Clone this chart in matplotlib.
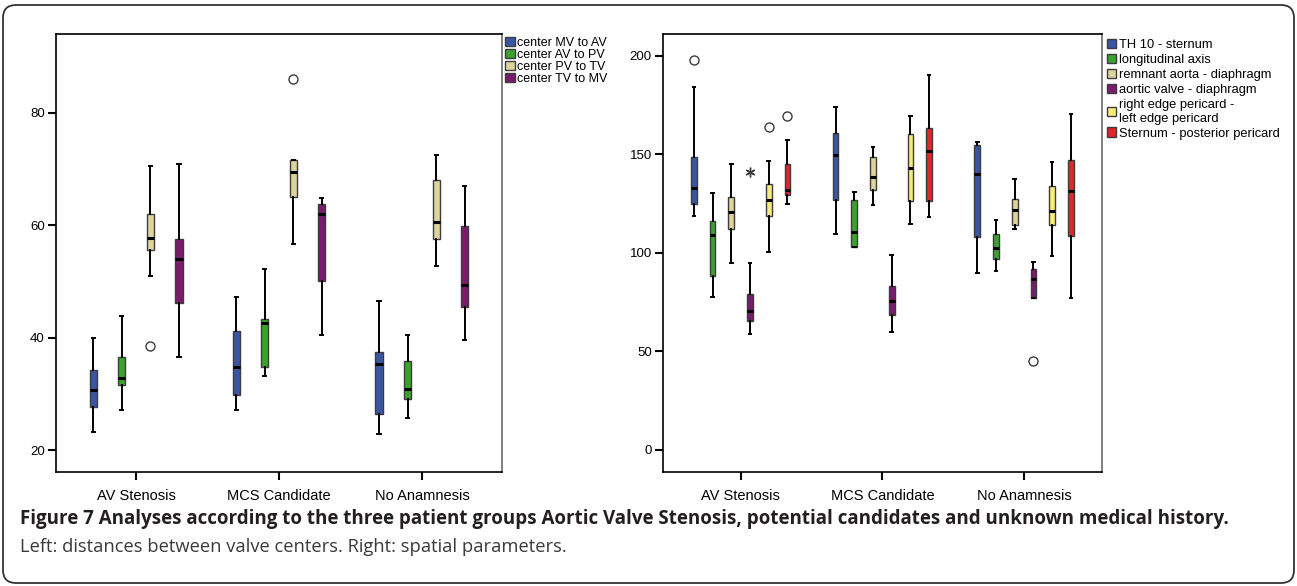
import matplotlib

matplotlib.use("Agg")

import matplotlib.pyplot as plt
from matplotlib.patches import FancyBboxPatch, Patch

plt.rcParams["font.family"] = ["Liberation Sans", "DejaVu Sans"]

GROUPS = ["AV Stenosis", "MCS Candidate", "No Anamnesis"]

# --- left panel: distances between valve centers (series x group) ---
LEFT_NAMES = ["center MV to AV", "center AV to PV", "center PV to TV", "center TV to MV"]
LEFT_COLORS = ["#3a55a4", "#3aa32c", "#ddd49c", "#7a1b6e"]
LEFT_WHISLO = [[23.2, 27.2, 22.9], [27.1, 33.1, 25.7], [51.0, 56.7, 52.8], [36.5, 40.5, 39.6]]
LEFT_Q1 = [[27.6, 29.8, 26.4], [31.5, 34.7, 29.1], [55.5, 65.0, 57.5], [46.2, 50.0, 45.4]]
LEFT_MED = [[30.7, 34.8, 35.3], [32.9, 42.6, 30.8], [57.7, 69.4, 60.5], [53.9, 61.9, 49.4]]
LEFT_Q3 = [[34.2, 41.2, 37.4], [36.6, 43.4, 35.8], [62.0, 71.6, 68.1], [57.6, 63.7, 59.9]]
LEFT_WHISHI = [[40.0, 47.2, 46.5], [43.9, 52.2, 40.5], [70.6, 71.6, 72.5], [70.8, 64.9, 67.0]]
LEFT_FLIERS = [[[], [], []], [[], [], []], [[38.5], [86.0], []], [[], [], []]]

# --- right panel: spatial parameters (series x group) ---
RIGHT_NAMES = ["TH 10 - sternum", "longitudinal axis", "remnant aorta - diaphragm",
               "aortic valve - diaphragm", "right edge pericard -\nleft edge pericard",
               "Sternum - posterior pericard"]
RIGHT_COLORS = ["#3a55a4", "#3aa32c", "#ddd49c", "#7a1b6e", "#f7ec7a", "#e4242c"]
RIGHT_WHISLO = [[118.8, 109.8, 89.9], [77.7, 103.0, 90.9], [94.8, 124.5, 112.0],
                [58.6, 59.8, 77.2], [100.2, 114.4, 98.2], [124.7, 118.1, 76.9]]
RIGHT_Q1 = [[124.8, 126.9, 107.8], [88.4, 103.1, 97.0], [112.2, 131.9, 113.9],
            [65.4, 68.6, 77.2], [118.8, 126.5, 114.2], [129.4, 126.5, 108.6]]
RIGHT_MED = [[133.0, 149.8, 140.1], [108.8, 110.5, 102.4], [120.6, 138.3, 121.6],
             [70.6, 75.3, 86.5], [127.0, 143.3, 121.1], [131.7, 151.7, 131.6]]
RIGHT_Q3 = [[148.8, 160.8, 154.7], [116.1, 126.9, 109.5], [128.4, 148.5, 127.2],
            [78.9, 82.9, 91.9], [134.8, 160.3, 134.1], [145.3, 163.2, 147.1]]
RIGHT_WHISHI = [[184.1, 174.0, 156.1], [130.4, 130.7, 116.7], [144.9, 153.7, 137.5],
                [94.8, 98.8, 95.1], [146.5, 169.7, 146.1], [157.1, 190.2, 170.5]]
RIGHT_FLIERS = [[[197.9], [], []], [[], [], []], [[], [], []],
                [[], [], [45.1]], [[163.7], [], []], [[169.6], [], []]]
# extreme value (star) per series x group
RIGHT_EXTREMES = [[[], [], []], [[], [], []], [[], [], []],
                  [[141.1], [], []], [[], [], []], [[], [], []]]


def draw_panel(ax, colors, whislo, q1, med, q3, whishi, fliers, spacing, width):
    n = len(colors)
    for i, color in enumerate(colors):
        off = (i - (n - 1) / 2) * spacing
        stats = []
        for g in range(len(GROUPS)):
            stats.append(dict(whislo=whislo[i][g], q1=q1[i][g], med=med[i][g],
                              q3=q3[i][g], whishi=whishi[i][g], fliers=fliers[i][g]))
        pos = [g + off for g in range(len(GROUPS))]
        ax.bxp(stats, positions=pos, widths=width, capwidths=width * 0.45,
               patch_artist=True, manage_ticks=False,
               boxprops=dict(facecolor=color, edgecolor="#3c3c3c", linewidth=1.0),
               medianprops=dict(color="black", linewidth=2.2),
               whiskerprops=dict(color="black", linewidth=1.4),
               capprops=dict(color="black", linewidth=1.4),
               flierprops=dict(marker="o", markerfacecolor="white",
                               markeredgecolor="#3c3c3c", markersize=6.5,
                               markeredgewidth=1.0))
    ax.set_xticks(range(len(GROUPS)))
    ax.set_xticklabels(GROUPS, fontsize=10.5)
    ax.tick_params(axis="x", length=6, width=1.5, pad=6)
    ax.tick_params(axis="y", length=6, width=1.5, labelsize=9.5, pad=2)
    for side in ["left", "top", "bottom"]:
        ax.spines[side].set_color("black")
        ax.spines[side].set_linewidth(1.2)
    ax.spines["right"].set_color("#808080")
    ax.spines["right"].set_linewidth(1.4)


fig = plt.figure(figsize=(12.97, 5.86), dpi=100)

ax_l = fig.add_axes([56 / 1297, 1 - 472 / 586, 446 / 1297, 438 / 586])
draw_panel(ax_l, LEFT_COLORS, LEFT_WHISLO, LEFT_Q1, LEFT_MED, LEFT_Q3, LEFT_WHISHI,
           LEFT_FLIERS, spacing=0.2, width=0.05)
ax_l.set_xlim(-0.56, 2.56)
ax_l.set_ylim(16.1, 94)
ax_l.set_yticks([20, 40, 60, 80])
ax_l.legend(handles=[Patch(facecolor=c, edgecolor="#3c3c3c", label=n)
                     for c, n in zip(LEFT_COLORS, LEFT_NAMES)],
            loc="upper left", bbox_to_anchor=(1.0, 1.0), frameon=False,
            fontsize=9.0, handlelength=0.8, handleheight=0.8, handletextpad=0.2,
            labelspacing=0.0, borderpad=0.2, borderaxespad=0.0)

ax_r = fig.add_axes([663 / 1297, 1 - 472 / 586, 439 / 1297, 438 / 586])
draw_panel(ax_r, RIGHT_COLORS, RIGHT_WHISLO, RIGHT_Q1, RIGHT_MED, RIGHT_Q3, RIGHT_WHISHI,
           RIGHT_FLIERS, spacing=0.132, width=0.04)
for i in range(len(RIGHT_COLORS)):
    off = (i - (len(RIGHT_COLORS) - 1) / 2) * 0.132
    for g in range(len(GROUPS)):
        for v in RIGHT_EXTREMES[i][g]:
            ax_r.plot(g + off, v, marker=(6, 2, 0), color="#3c3c3c", markersize=7,
                      markeredgewidth=1.0, linestyle="none")
ax_r.set_xlim(-0.548, 2.55)
ax_r.set_ylim(-11.3, 211.1)
ax_r.set_yticks([0, 50, 100, 150, 200])
ax_r.legend(handles=[Patch(facecolor=c, edgecolor="#3c3c3c", label=n)
                     for c, n in zip(RIGHT_COLORS, RIGHT_NAMES)],
            loc="upper left", bbox_to_anchor=(1.0, 1.0), frameon=False,
            fontsize=9.3, handlelength=0.75, handleheight=0.75, handletextpad=0.2,
            labelspacing=0.22, borderpad=0.35, borderaxespad=0.0)

# caption
fig.text(20 / 1297, 1 - 519 / 586,
         "Figure 7 Analyses according to the three patient groups Aortic Valve Stenosis, "
         "potential candidates and unknown medical history.",
         family="Open Sans", fontweight="bold", fontsize=13.5, color="#231f20",
         ha="left", va="center")
fig.text(20 / 1297, 1 - 547 / 586,
         "Left: distances between valve centers. Right: spatial parameters.",
         family="Open Sans", fontsize=13.2, color="#3a3a3a", ha="left", va="center")

# rounded frame around the whole figure
fig.patches.append(FancyBboxPatch((0.03, 0.03), 12.91, 5.78,
                                  boxstyle="round,pad=0,rounding_size=0.13",
                                  transform=fig.dpi_scale_trans, fill=False,
                                  edgecolor="#333333", linewidth=1.3))

fig.savefig("out.png", dpi=100)
